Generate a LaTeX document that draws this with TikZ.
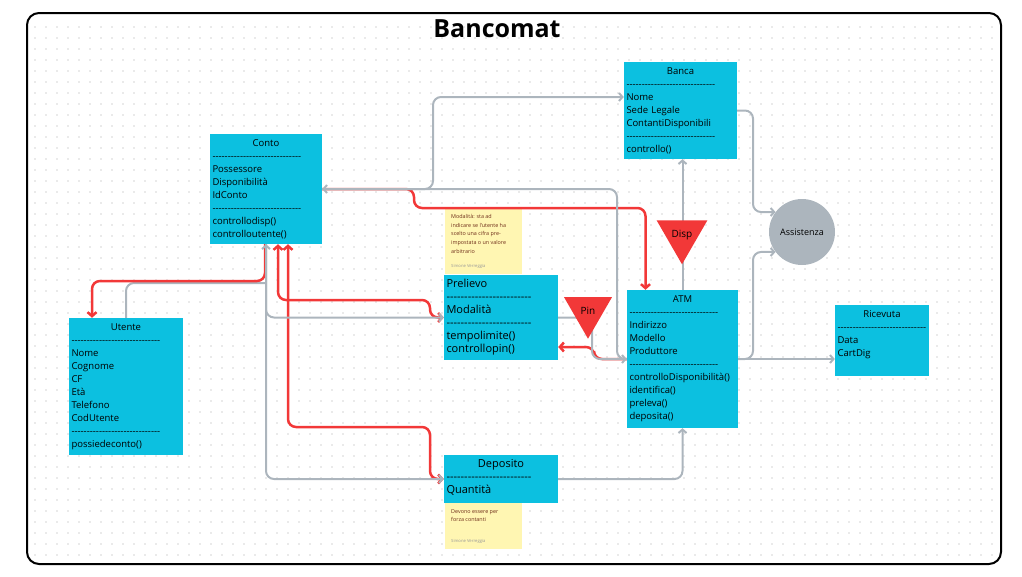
\documentclass[tikz,border=0pt]{standalone}
\usepackage{fontspec}
\setmainfont{Open Sans}
\usetikzlibrary{arrows.meta,shapes.geometric}
\definecolor{umlcyan}{RGB}{12,192,224}
\definecolor{linkgray}{RGB}{172,181,189}
\definecolor{linkred}{RGB}{242,56,56}
\definecolor{notebg}{RGB}{255,246,178}
\definecolor{notetext}{RGB}{110,45,25}
\definecolor{dotgray}{RGB}{205,205,205}
\newcommand{\dashrow}[1]{\foreach \i in {1,...,#1}{-\kern0pt}}
\newcommand{\clstitle}[1]{\null\hfill\strut#1\hfill\null}

\begin{document}
\begin{tikzpicture}[x=1pt,y=-1pt,
  cls/.style={shape=rectangle,fill=umlcyan},
  clstext/.style={anchor=north west,inner xsep=2.5pt,inner ysep=3pt,align=left,font=\fontsize{9.5}{13}\selectfont},
  bigtext/.style={clstext,font=\fontsize{11}{13}\selectfont},
  note/.style={shape=rectangle,fill=notebg,minimum width=77,anchor=north west},
  notetext/.style={anchor=north west,align=left,inner sep=0pt,text=notetext,font=\fontsize{5.4}{8.7}\selectfont},
  notesign/.style={anchor=north west,inner sep=0pt,text=black!40,font=\fontsize{4.2}{5}\selectfont},
  gline/.style={draw=linkgray,line width=2pt,rounded corners=8pt,>={Straight Barb[length=3.5pt,width=8pt]}},
  rline/.style={draw=linkred,line width=2.5pt,rounded corners=8pt,>={Straight Barb[length=4pt,width=9pt]}},
  flag/.style={regular polygon,regular polygon sides=3,shape border rotate=180,fill=linkred,minimum size=55.4pt,inner sep=0pt,font=\fontsize{10}{11}\selectfont}]
\useasboundingbox (0,0) rectangle (1022,576);
\foreach \y in {27,38,...,557} {\fill[dotgray] \foreach \x in {35,46,...,992} {(\x-0.7,\y-0.7) rectangle ++(1.4,1.4)};}
\draw[line width=2pt,rounded corners=12pt] (27,13) rectangle (1001,564);
\node(title)[font=\fontsize{25}{30}\selectfont\bfseries] at (497,29){Bancomat};

\node(conto)[cls,minimum width=112,minimum height=110] at (266,189){};
\node(contotxt)[clstext,text width=107] at (conto.north west){\clstitle{Conto}\\\dashrow{29}\\Possessore\\Disponibilità\\IdConto\\\dashrow{29}\\controllodisp()\\controlloutente()};
\node(utente)[cls,minimum width=114,minimum height=137] at (126,386.5){};
\node(utentetxt)[clstext,text width=109] at (utente.north west){\clstitle{Utente}\\\dashrow{29}\\Nome\\Cognome\\CF\\Età\\Telefono\\CodUtente\\\dashrow{29}\\possiedeconto()};
\node(prelievo)[cls,minimum width=114,minimum height=85] at (501,317.5){};
\node(prelievotxt)[bigtext,text width=109] at (prelievo.north west){\strut Prelievo\\\dashrow{24}\\Modalità\\\dashrow{24}\\tempolimite()\\controllopin()};
\node(banca)[cls,minimum width=113,minimum height=97] at (680.5,110.5){};
\node(bancatxt)[clstext,text width=108] at (banca.north west){\clstitle{Banca}\\\dashrow{29}\\Nome\\Sede Legale\\ContantiDisponibili\\\dashrow{29}\\controllo()};
\node(atm)[cls,minimum width=111,minimum height=138] at (682.5,359){};
\node(atmtxt)[clstext,text width=106] at (atm.north west){\clstitle{ATM}\\\dashrow{29}\\Indirizzo\\Modello\\Produttore\\\dashrow{29}\\controlloDisponibilità()\\identifica()\\preleva()\\deposita()};
\node(ricevuta)[cls,minimum width=94,minimum height=71] at (882,340.5){};
\node(ricevutatxt)[clstext,text width=89] at (ricevuta.north west){\clstitle{Ricevuta}\\\dashrow{29}\\Data\\CartDig};
\node(deposito)[cls,minimum width=114,minimum height=48] at (501,479){};
\node(depositotxt)[bigtext,text width=109] at (deposito.north west){\clstitle{Deposito}\\\dashrow{24}\\Quantità};

\node(notepre)[note,minimum height=66] at (445,208){};
\node(notepretxt)[notetext] at (451,214){Modalità: sta ad\\indicare se l'utente ha\\scelto una cifra pre-\\impostata o un valore\\arbitrario};
\node(notepresign)[notesign] at (451,264){Simone Verreggia};
\node(notedep)[note,minimum height=46] at (445,503){};
\node(notedeptxt)[notetext] at (451,509){Devono essere per\\forza contanti};
\node(notedepsign)[notesign] at (451,539){Simone Verreggia};

\node(assist)[circle,fill=linkgray,minimum size=66,inner sep=0pt,font=\fontsize{9}{11}\selectfont] at (802,232){Assistenza};

\draw[gline] (utente.north) |- (266,283);
\draw[rline,->] ([xshift=-1pt]conto.south) -- (265,281) -| ([xshift=-34pt]utente.north);
\draw[rline,<->] ([xshift=12pt]conto.south) |- (430,300) |- (prelievo.west);
\draw[rline,<->] ([xshift=22pt]conto.south) |- (430,427) |- (deposito.west);
\draw[rline,->] (conto.east) -| (414,208) -| ([xshift=-37pt]atm.north);
\draw[rline,->] (atm.west) -- (594,359) |- ([yshift=-29.5pt]prelievo.east);

\draw[gline,->] (conto.east) -- (433,189) |- ([yshift=13.5pt]banca.west);
\draw[gline,->] (atm.west) -- (617,359) |- (conto.east);
\draw[gline,->] (prelievo.east) -- (592,317.5) |- (atm.west);
\draw[gline,->] (atm.north) -- (atm.north |- banca.south);
\draw[gline,->] (banca.east) -- (753,110.5) |- (assist.143);
\draw[gline,->] (atm.east) -- (753,359) |- (assist.217);
\draw[gline,->] (atm.east) -- (atm.east -| ricevuta.west);
\draw[gline,->] (deposito.east) -| (atm.south);
\draw[gline,<->] (conto.south) |- (prelievo.west);
\draw[gline,->] (conto.south) |- (deposito.west);

\node(pin)[flag] at (588,311){Pin};
\node(disp)[flag] at (682,235){Disp};
\end{tikzpicture}
\end{document}
